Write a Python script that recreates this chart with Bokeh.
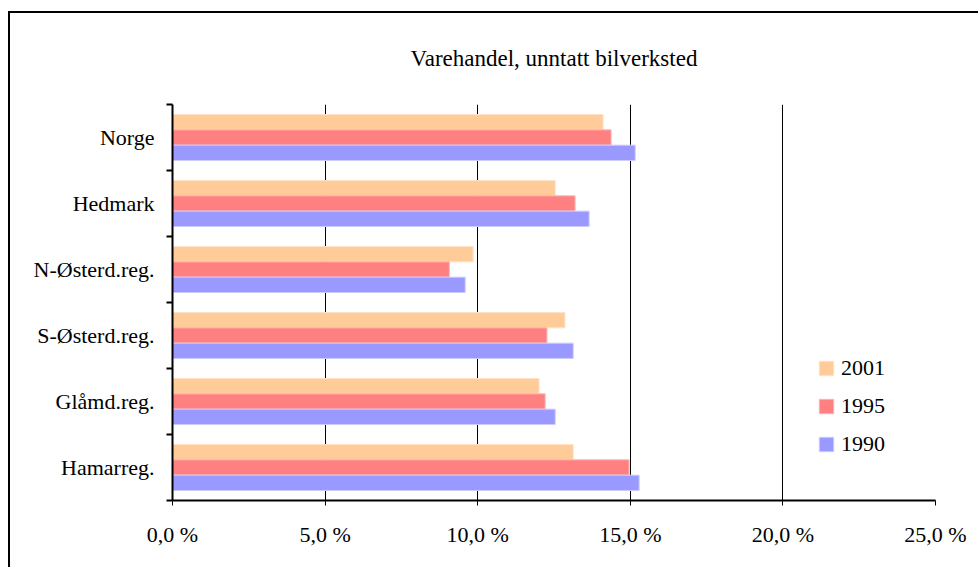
from bokeh.plotting import figure
from bokeh.models import Range1d, FixedTicker, Legend, LegendItem
from bokeh.embed import file_html
from bokeh.resources import INLINE

# ---- data ----
categories = ["Hamarreg.", "Glåmd.reg.", "S-Østerd.reg.", "N-Østerd.reg.", "Hedmark", "Norge"]
series_names = ["2001", "1995", "1990"]
v2001 = [13.13, 12.01, 12.86, 9.85, 12.54, 14.11]
v1995 = [14.96, 12.21, 12.27, 9.07, 13.19, 14.37]
v1990 = [15.29, 12.54, 13.13, 9.59, 13.65, 15.16]
xticks = [0, 5, 10, 15, 20, 25]
xtick_labels = ["0,0 %", "5,0 %", "10,0 %", "15,0 %", "20,0 %", "25,0 %"]
chart_title = "Varehandel, unntatt bilverksted"

# ---- style ----
colors = ["#FFCC99", "#FF8080", "#9999FF"]
edge_colors = ["#FFE2C6", "#FFB3B3", "#CCCCFF"]
FONT = "Liberation Serif"
FS = "22px"
bar_h = 0.232
offsets = [bar_h, 0.0, -bar_h]

W, H = 970, 567
p = figure(width=W, height=H, output_backend="svg", toolbar_location=None,
           x_range=Range1d(0, 25), y_range=Range1d(0, 6),
           min_border_left=164, min_border_right=43, min_border_top=104, min_border_bottom=67)
# outer frame: left and top lines drawn behind a transparent canvas
p.styles = {
    "margin-left": "8px",
    "background": "linear-gradient(#000,#000) 0px 11px / 100% 2px no-repeat, "
                  "linear-gradient(#000,#000) 0px 11px / 2px 100% no-repeat",
}
p.outline_line_color = None
p.background_fill_color = "white"
p.border_fill_color = None

p.title.text = chart_title
p.title.align = "center"
p.title.text_font = FONT
p.title.text_font_size = "23px"
p.title.text_font_style = "normal"
p.title.text_color = "black"
p.title.standoff = 68

renderers = []
for vals, off, col, ecol in zip([v2001, v1995, v1990], offsets, colors, edge_colors):
    ys = [i + 0.5 + off for i in range(len(categories))]
    r = p.hbar(y=ys, right=vals, left=0, height=bar_h, fill_color=col,
               line_color=ecol, line_width=1)
    renderers.append(r)

# x axis
p.xaxis.ticker = FixedTicker(ticks=xticks, minor_ticks=[])
p.xaxis.major_label_overrides = {t: l for t, l in zip(xticks, xtick_labels)}
p.xaxis.major_label_text_font = FONT
p.xaxis.major_label_text_font_size = FS
p.xaxis.major_label_text_color = "black"
p.xaxis.axis_line_color = "black"
p.xaxis.axis_line_width = 2
p.xaxis.major_tick_line_color = "black"
p.xaxis.major_tick_line_width = 1
p.xaxis.major_tick_out = 5
p.xaxis.major_tick_in = 0
p.xaxis.major_label_standoff = 16

# y axis
yt = [i + 0.5 for i in range(len(categories))]
p.yaxis.ticker = FixedTicker(ticks=yt, minor_ticks=list(range(len(categories) + 1)))
p.yaxis.major_label_overrides = {t: c for t, c in zip(yt, categories)}
p.yaxis.major_label_text_font = FONT
p.yaxis.major_label_text_font_size = FS
p.yaxis.major_label_text_color = "black"
p.yaxis.axis_line_color = "black"
p.yaxis.axis_line_width = 2
p.yaxis.major_tick_out = 0
p.yaxis.major_tick_in = 0
p.yaxis.minor_tick_out = 6
p.yaxis.minor_tick_in = 0
p.yaxis.minor_tick_line_color = "black"
p.yaxis.minor_tick_line_width = 2
p.yaxis.major_label_standoff = 12

# grid
p.xgrid.ticker = FixedTicker(ticks=xticks, minor_ticks=[])
p.xgrid.grid_line_color = "black"
p.xgrid.grid_line_width = 1
p.ygrid.grid_line_color = None

legend = Legend(items=[LegendItem(label=n, renderers=[r]) for n, r in zip(series_names, renderers)],
                location=(645, 43), orientation="vertical", border_line_color=None,
                background_fill_alpha=0, padding=0, margin=0, spacing=12,
                glyph_width=18, glyph_height=18, label_height=24, label_standoff=6,
                label_text_font=FONT, label_text_font_size=FS, label_text_color="black")
p.add_layout(legend)

open("out.html", "w").write(file_html(p, INLINE))
